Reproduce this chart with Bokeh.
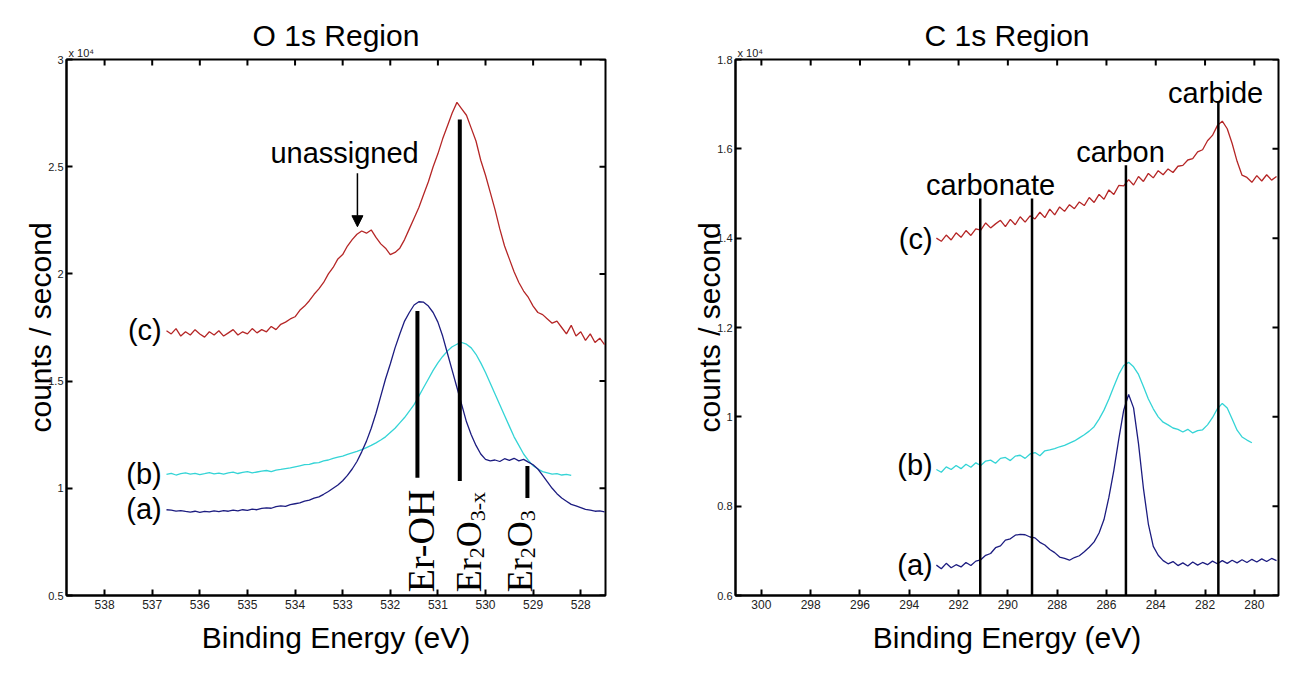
import numpy as np
from math import pi
from bokeh.plotting import figure
from bokeh.models import Range1d, FixedTicker, Label, Arrow, NormalHead, Title
from bokeh.layouts import row
from bokeh.embed import file_html
from bokeh.resources import INLINE

SCALE = 1e4  # values below are in units of 10^4 counts/second

# ---------------- O 1s region (binding energy grid: start, step 0.1 eV, descending) ----------------
o1s_start = 536.7
o1s_step = 0.1
o1s_c = [1.735, 1.72, 1.745, 1.71, 1.73, 1.715, 1.74, 1.72, 1.705, 1.73,
         1.715, 1.735, 1.71, 1.725, 1.74, 1.715, 1.73, 1.72, 1.745, 1.725,
         1.74, 1.73, 1.755, 1.74, 1.765, 1.775, 1.79, 1.80, 1.83, 1.85,
         1.875, 1.905, 1.93, 1.96, 2.0, 2.03, 2.07, 2.09, 2.13, 2.16,
         2.185, 2.2, 2.19, 2.205, 2.17, 2.14, 2.12, 2.09, 2.10, 2.12,
         2.16, 2.21, 2.26, 2.31, 2.37, 2.43, 2.5, 2.56, 2.63, 2.69,
         2.75, 2.80, 2.77, 2.74, 2.68, 2.62, 2.53, 2.46, 2.38, 2.30,
         2.21, 2.13, 2.07, 2.01, 1.96, 1.92, 1.89, 1.85, 1.82, 1.81,
         1.79, 1.77, 1.78, 1.75, 1.72, 1.76, 1.71, 1.73, 1.69, 1.72,
         1.68, 1.70, 1.67]
o1s_b = [1.065, 1.07, 1.062, 1.068, 1.072, 1.066, 1.07, 1.064, 1.068, 1.073,
         1.067, 1.071, 1.066, 1.072, 1.075, 1.069, 1.074, 1.078, 1.072, 1.076,
         1.08, 1.083, 1.078, 1.085, 1.088, 1.092, 1.095, 1.10, 1.105, 1.11,
         1.112, 1.118, 1.12, 1.128, 1.132, 1.14, 1.145, 1.15, 1.158, 1.165,
         1.172, 1.18, 1.19, 1.2, 1.212, 1.225, 1.24, 1.26, 1.28, 1.305,
         1.33, 1.36, 1.39, 1.43, 1.47, 1.51, 1.55, 1.585, 1.615, 1.64,
         1.66, 1.672, 1.68, 1.672, 1.655, 1.625, 1.585, 1.54, 1.49, 1.44,
         1.39, 1.34, 1.29, 1.24, 1.2, 1.16, 1.13, 1.105, 1.09, 1.078,
         1.072, 1.066, 1.068, 1.062, 1.065, 1.06]
o1s_a = [0.90, 0.898, 0.894, 0.896, 0.892, 0.889, 0.893, 0.888, 0.892, 0.89,
         0.895, 0.891, 0.896, 0.893, 0.898, 0.895, 0.90, 0.897, 0.903, 0.90,
         0.906, 0.909, 0.907, 0.915, 0.918, 0.916, 0.924, 0.928, 0.932, 0.94,
         0.945, 0.954, 0.96, 0.972, 0.985, 1.0, 1.015, 1.035, 1.06, 1.09,
         1.125, 1.17, 1.22, 1.28, 1.35, 1.43, 1.51, 1.58, 1.655, 1.72,
         1.78, 1.82, 1.855, 1.87, 1.868, 1.85, 1.82, 1.775, 1.71, 1.63,
         1.55, 1.47, 1.39, 1.31, 1.25, 1.2, 1.16, 1.135, 1.128, 1.132,
         1.125, 1.138, 1.13, 1.14, 1.128, 1.135, 1.122, 1.11, 1.09, 1.06,
         1.03, 1.0, 0.975, 0.955, 0.94, 0.925, 0.918, 0.91, 0.902, 0.898,
         0.893, 0.895, 0.89]

# peak-assignment bars (eV, top, bottom in 10^4)
o1s_bar_E = [531.43, 530.54, 529.12]
o1s_bar_top = [1.827, 2.72, 1.104]
o1s_bar_bot = [1.049, 1.034, 0.955]

# ---------------- C 1s region (start, step 0.2 eV, descending) ----------------
c1s_start = 292.9
c1s_step = 0.2
c1s_c = [1.400, 1.393, 1.407, 1.396, 1.412, 1.402, 1.417, 1.406, 1.421, 1.418,
         1.434, 1.423, 1.432, 1.440, 1.426, 1.442, 1.430, 1.448, 1.436, 1.450,
         1.443, 1.458, 1.446, 1.465, 1.452, 1.470, 1.460, 1.475, 1.466, 1.481,
         1.473, 1.491, 1.480, 1.498, 1.487, 1.508, 1.498, 1.518, 1.517, 1.531,
         1.519, 1.538, 1.527, 1.545, 1.535, 1.551, 1.542, 1.555, 1.547, 1.561,
         1.563, 1.575, 1.578, 1.593, 1.598, 1.618, 1.630, 1.652, 1.662, 1.645,
         1.612, 1.572, 1.541, 1.536, 1.525, 1.540, 1.528, 1.542, 1.530, 1.538]
c1s_b = [0.882, 0.876, 0.888, 0.882, 0.891, 0.884, 0.894, 0.887, 0.897, 0.891,
         0.901, 0.903, 0.896, 0.907, 0.909, 0.902, 0.912, 0.914, 0.907, 0.917,
         0.920, 0.913, 0.924, 0.926, 0.929, 0.933, 0.936, 0.941, 0.946, 0.953,
         0.96, 0.968, 0.978, 0.995, 1.015, 1.04, 1.068, 1.095, 1.115, 1.122,
         1.112, 1.095, 1.068, 1.04, 1.018, 1.0, 0.988, 0.982, 0.975, 0.972,
         0.966, 0.972, 0.964, 0.969, 0.971, 0.982, 0.998, 1.018, 1.03, 1.02,
         0.995, 0.97, 0.955, 0.948, 0.942]
c1s_a = [0.668, 0.660, 0.672, 0.662, 0.669, 0.664, 0.674, 0.667, 0.677, 0.680,
         0.690, 0.694, 0.707, 0.711, 0.724, 0.727, 0.735, 0.737, 0.736, 0.731,
         0.729, 0.719, 0.713, 0.703, 0.696, 0.686, 0.683, 0.679, 0.685, 0.689,
         0.698, 0.708, 0.72, 0.74, 0.77, 0.82, 0.88, 0.95, 1.015, 1.05,
         1.02, 0.94, 0.84, 0.76, 0.71, 0.69, 0.678, 0.671, 0.676, 0.667,
         0.673, 0.666, 0.675, 0.668, 0.674, 0.669, 0.677, 0.671, 0.678, 0.672,
         0.679, 0.673, 0.680, 0.674, 0.681, 0.675, 0.682, 0.676, 0.683, 0.678]

c1s_line_E = [291.12, 289.02, 285.21, 281.46]
c1s_line_top = [1.489, 1.489, 1.563, 1.705]

# tick labels
o1s_xticks = [538, 537, 536, 535, 534, 533, 532, 531, 530, 529, 528]
o1s_yticks = [0.5, 1, 1.5, 2, 2.5, 3]
o1s_ylabels = ["0.5", "1", "1.5", "2", "2.5", "3"]
c1s_xticks = [300, 298, 296, 294, 292, 290, 288, 286, 284, 282, 280]
c1s_yticks = [0.6, 0.8, 1.0, 1.2, 1.4, 1.6, 1.8]
c1s_ylabels = ["0.6", "0.8", "1", "1.2", "1.4", "1.6", "1.8"]

RED = "#b52626"
CYAN = "#34d4d6"
NAVY = "#1c1c80"
SANS = "Liberation Sans"
SERIF = "Liberation Serif"

HEIGHT = 671
B_TOP = 59
B_BOTTOM = 76
TICK_PX = 6


def grid(start, step, n):
    return start - step * np.arange(n)


def counts(v):
    return np.array(v) * SCALE


def make_fig(title, width, bl, br, xr, yr, xticks, yticks, ylabels):
    p = figure(width=width, height=HEIGHT, x_range=Range1d(*xr),
               y_range=Range1d(yr[0] * SCALE, yr[1] * SCALE),
               output_backend="svg", toolbar_location=None,
               min_border_left=bl, min_border_right=br,
               min_border_top=B_TOP, min_border_bottom=B_BOTTOM)
    p.background_fill_color = "white"
    p.border_fill_color = "white"
    p.xgrid.visible = False
    p.ygrid.visible = False
    p.outline_line_color = "black"
    p.outline_line_width = 2

    # small exponent note just above the frame's top-left corner
    p.add_layout(Title(text="x 10\u2074", align="left", text_font=SANS,
                       text_font_size="11px", text_font_style="normal",
                       text_color="#222222", standoff=1, offset=2), "above")
    p.add_layout(Title(text=title, align="center", text_font=SANS,
                       text_font_size="30px", text_font_style="normal",
                       text_color="black", standoff=-14), "above")

    xt = FixedTicker(ticks=xticks)
    yt = FixedTicker(ticks=[t * SCALE for t in yticks])
    yover = {t * SCALE: lab for t, lab in zip(yticks, ylabels)}

    for ax in (p.xaxis[0], p.yaxis[0]):
        ax.axis_line_width = 2
        ax.major_tick_in = TICK_PX
        ax.major_tick_out = 0
        ax.major_tick_line_width = 2
        ax.minor_tick_line_color = None
        ax.major_label_text_font = SANS
        ax.major_label_text_color = "#222222"
        ax.axis_label_text_font = SANS
        ax.axis_label_text_font_style = "normal"
        ax.axis_label_text_font_size = "30px"
        ax.axis_label_text_color = "black"
    p.xaxis[0].ticker = xt
    p.xaxis[0].major_label_text_font_size = "12px"
    p.xaxis[0].major_label_standoff = 4
    p.xaxis[0].axis_label = "Binding Energy (eV)"
    p.xaxis[0].axis_label_standoff = 9
    p.yaxis[0].ticker = yt
    p.yaxis[0].major_label_overrides = yover
    p.yaxis[0].major_label_text_font_size = "11px"
    p.yaxis[0].major_label_standoff = 3
    p.yaxis[0].axis_label = "counts / second"
    p.yaxis[0].axis_label_standoff = -12

    # inward tick marks on the top and right frame edges (MATLAB box style)
    frame_w = width - bl - br
    frame_h = HEIGHT - B_TOP - B_BOTTOM
    ytop = yr[1] * SCALE
    dy = (yr[1] - yr[0]) * SCALE / frame_h * TICK_PX
    dx = (xr[0] - xr[1]) / frame_w * TICK_PX
    p.segment(x0=xticks, y0=[ytop] * len(xticks), x1=xticks, y1=[ytop - dy] * len(xticks),
              line_color="black", line_width=2)
    ys = [t * SCALE for t in yticks]
    p.segment(x0=[xr[1]] * len(ys), y0=ys, x1=[xr[1] + dx] * len(ys), y1=ys,
              line_color="black", line_width=2)
    return p


# ---------------- left: O 1s ----------------
p1 = make_fig("O 1s Region", 660, 66, 55, (538.8, 527.48), (0.5, 3.0),
              o1s_xticks, o1s_yticks, o1s_ylabels)
p1.line(grid(o1s_start, o1s_step, len(o1s_c)), counts(o1s_c), line_color=RED, line_width=1.3)
p1.line(grid(o1s_start, o1s_step, len(o1s_b)), counts(o1s_b), line_color=CYAN, line_width=1.3)
p1.line(grid(o1s_start, o1s_step, len(o1s_a)), counts(o1s_a), line_color=NAVY, line_width=1.3)
p1.segment(x0=o1s_bar_E, y0=counts(o1s_bar_bot), x1=o1s_bar_E, y1=counts(o1s_bar_top),
           line_color="black", line_width=4)

for txt, yv in (("(c)", 1.739), ("(b)", 1.067), ("(a)", 0.905)):
    p1.add_layout(Label(x=536.8, y=yv * SCALE, text=txt, text_align="right",
                        text_baseline="middle", text_font=SANS, text_font_size="29px",
                        text_color="black"))

p1.add_layout(Label(x=532.96, y=2.565 * SCALE, text="unassigned", text_align="center",
                    text_baseline="middle", text_font=SANS, text_font_size="29px",
                    text_color="black"))
p1.add_layout(Arrow(end=NormalHead(size=11, fill_color="black", line_color="black"),
                    x_start=532.69, y_start=2.47 * SCALE, x_end=532.69, y_end=2.22 * SCALE,
                    line_color="black", line_width=1.5))

# rotated serif species labels: pieces (text, font size, along-offset px, sub shift px)
Y0 = 0.515 * SCALE
species = [
    (531.35, [("Er-OH", 38, 0, 0)]),
    (530.34, [("Er", 36, 0, 0), ("2", 22, 34, 8), ("O", 36, 45, 0), ("3-x", 22, 71, 8)]),
    (529.27, [("Er", 36, 0, 0), ("2", 22, 34, 8), ("O", 36, 45, 0), ("3", 22, 71, 8)]),
]
for xe, pieces in species:
    for txt, fs, along, sub in pieces:
        p1.add_layout(Label(x=xe, y=Y0, text=txt, angle=pi / 2, text_align="left",
                            text_baseline="alphabetic", x_offset=sub, y_offset=along,
                            text_font=SERIF, text_font_size=f"{fs}px", text_color="black"))

# ---------------- right: C 1s ----------------
p2 = make_fig("C 1s Region", 630, 75, 12, (301.05, 279.02), (0.6, 1.8),
              c1s_xticks, c1s_yticks, c1s_ylabels)
p2.line(grid(c1s_start, c1s_step, len(c1s_c)), counts(c1s_c), line_color=RED, line_width=1.3)
p2.line(grid(c1s_start, c1s_step, len(c1s_b)), counts(c1s_b), line_color=CYAN, line_width=1.3)
p2.line(grid(c1s_start, c1s_step, len(c1s_a)), counts(c1s_a), line_color=NAVY, line_width=1.3)
p2.segment(x0=c1s_line_E, y0=[0.6 * SCALE] * len(c1s_line_E), x1=c1s_line_E,
           y1=counts(c1s_line_top), line_color="black", line_width=2.5)

for txt, yv in (("(c)", 1.399), ("(b)", 0.893), ("(a)", 0.668)):
    p2.add_layout(Label(x=293.05, y=yv * SCALE, text=txt, text_align="right",
                        text_baseline="middle", text_font=SANS, text_font_size="29px",
                        text_color="black"))
for txt, xe, yv in (("carbonate", 290.7, 1.52), ("carbon", 285.43, 1.594), ("carbide", 281.57, 1.725)):
    p2.add_layout(Label(x=xe, y=yv * SCALE, text=txt, text_align="center",
                        text_baseline="middle", text_font=SANS, text_font_size="29px",
                        text_color="black"))

layout = row(p1, p2)
open("out.html", "w").write(file_html(layout, INLINE))
